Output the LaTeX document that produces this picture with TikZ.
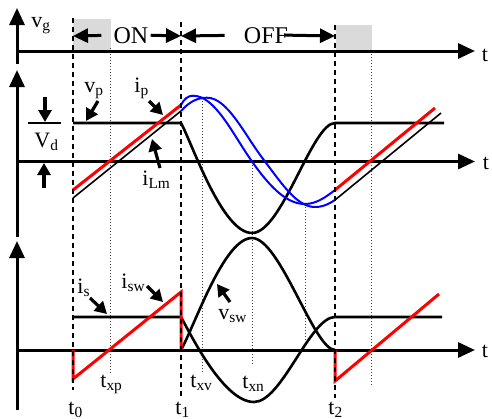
\documentclass[tikz,border=0pt]{standalone}
\usepackage{fontspec}
\setmainfont{Liberation Serif}
\usetikzlibrary{arrows.meta}
\definecolor{gatebox}{RGB}{218,218,218}
\definecolor{ired}{RGB}{255,0,0}
\definecolor{rblue}{RGB}{0,0,255}

\begin{document}
\begin{tikzpicture}[
    x=0.5pt, y=-0.5pt,
    axis/.style={line width=1.5pt, -{Triangle[length=8.5pt, width=7.5pt]}},
    span/.style={line width=1.5pt, -{Triangle[length=7.5pt, width=7pt]}},
    ptr/.style={line width=1.6pt, -{Triangle[length=6pt, width=6.5pt]}},
    wave/.style={line width=1.3pt},
    thinwave/.style={line width=0.8pt},
    redwave/.style={line width=1.5pt, ired},
    bluewave/.style={line width=1pt, rblue},
    tmark/.style={line width=0.6pt, dash pattern=on 2.5pt off 2pt},
    tcross/.style={line width=0.5pt, black!75, dash pattern=on 0.5pt off 1pt},
    lbl/.style={font=\fontsize{11}{13}\selectfont, inner sep=0pt, anchor=base west},
    big/.style={font=\fontsize{12}{14}\selectfont, inner sep=0pt, anchor=base}
]
\useasboundingbox (0,0) rectangle (492,418);

% Intervalos ON / OFF
\fill[gatebox] (73,19) rectangle (111,51);
\fill[gatebox] (336,25) rectangle (372,51);

% Instantes de cruce (punteados)
\draw[tcross] (110,48) -- (110,373);
\draw[tcross] (202,98) -- (202,372);
\draw[tcross] (252,162) -- (252,365);
\draw[tcross] (305,204) -- (305,345);
\draw[tcross] (371,51) -- (371,386);

% Ejes
\draw[axis] (17,64) -- (17,8);
\draw[axis] (17,51) -- (475,51);
\draw[axis] (17,237) -- (17,70);
\draw[axis] (17,161.5) -- (475,161.5);
\draw[axis] (17,410) -- (17,241);
\draw[axis] (17,350) -- (475,350);
\node[lbl, anchor=base] (tg) at (485,61) {t};
\node[lbl, anchor=base] (tp) at (486,169) {t};
\node[lbl, anchor=base] (ts) at (485,357) {t};

% Senal de puerta
\node[lbl] (vg) at (31,27) {v\textsubscript{g}};
\node[big] (on) at (131,43) {ON};
\node[big] (off) at (266,43) {OFF};
\coordinate (s0) at (73,36);
\coordinate (s1) at (181,36);
\coordinate (s2) at (335,36);
\draw[span, shorten <=6pt] (on.west) -- (s0);
\draw[span, shorten <=1pt] (on.east) -- (s1);
\draw[span, shorten <=9.5pt] (off.west) -- (s1);
\draw[span, shorten <=-2pt] (off.east) -- (s2);

% Primario: v_p, i_p, i_Lm
\draw[wave] (73,123) -- (181,123) .. controls (192,143) and (222,233) .. (252,233)
    .. controls (282,233) and (312,123) .. (335,123) -- (444,123);
\draw[thinwave] (73,198) -- (181,111);
\draw[thinwave] (335,200) -- (441,113);
\draw[redwave] (73,190) -- (181,105);
\draw[redwave] (335,190) -- (435,108);
\draw[bluewave] (181,105) .. controls (184,99) and (188,95.7) .. (193,95.7)
    .. controls (215,95.7) and (232,133) .. (252,161.5)
    .. controls (272,190) and (288,204) .. (305,204)
    .. controls (317,204) and (327,196) .. (335,190);
\draw[bluewave] (181,111) .. controls (190,101) and (198,97.7) .. (207,97.7)
    .. controls (228,97.7) and (245,136) .. (265,161.5)
    .. controls (284,187) and (298,207) .. (315,207)
    .. controls (324,207) and (330,203) .. (335,200);

% Cota V_d
\node[lbl] (vd) at (34,147) {V\textsubscript{d}};
\coordinate (vdL) at (28,123);
\coordinate (vdR) at (61,123);
\draw[line width=0.8pt] (vdL) -- (vdR);
\coordinate (vdA) at (45,97);
\coordinate (vdB) at (45,122);
\coordinate (vdC) at (44,188);
\coordinate (vdD) at (44,163);
\draw[ptr] (vdA) -- (vdB);
\draw[ptr] (vdC) -- (vdD);

\node[lbl] (vp) at (84,92) {v\textsubscript{p}};
\coordinate (vpA) at (98,101);
\coordinate (vpB) at (86,121);
\draw[ptr] (vpA) -- (vpB);
\node[lbl] (ip) at (134,92) {i\textsubscript{p}};
\coordinate (ipA) at (149,101);
\coordinate (ipB) at (163,115);
\draw[ptr] (ipA) -- (ipB);
\node[lbl] (ilm) at (142,185) {i\textsubscript{Lm}};
\coordinate (ilmA) at (160,168);
\coordinate (ilmB) at (152,139);
\draw[ptr] (ilmA) -- (ilmB);

% Secundario: i_s, i_sw, v_sw
\draw[wave] (73,317) -- (181,317) .. controls (192,337) and (224,402) .. (254,402)
    .. controls (282,402) and (310,317) .. (335,317) -- (442,317);
\draw[wave] (181,350) .. controls (195,325) and (224,238) .. (252,238)
    .. controls (280,238) and (314,350) .. (335,350);
\draw[redwave] (73,350) -- (73,379) -- (181,292) -- (181,350);
\draw[redwave] (335,350) -- (335,381) -- (439,294);

\node[lbl] (is) at (77,293) {i\textsubscript{s}};
\coordinate (isA) at (90,298);
\coordinate (isB) at (107,314);
\draw[ptr] (isA) -- (isB);
\node[lbl] (isw) at (121,288) {i\textsubscript{sw}};
\coordinate (iswA) at (147,286);
\coordinate (iswB) at (163,302);
\draw[ptr] (iswA) -- (iswB);
\node[lbl] (vsw) at (218,319) {v\textsubscript{sw}};
\coordinate (vswA) at (230,302);
\coordinate (vswB) at (217,284);
\draw[ptr] (vswA) -- (vswB);

% Instantes de conmutacion (discontinuos)
\draw[tmark] (73,18) -- (73,390);
\draw[tmark] (181,22) -- (181,398);
\draw[tmark] (335,25) -- (335,398);

\node[lbl] (t0) at (68,414) {t\textsubscript{0}};
\node[lbl] (txp) at (100,387) {t\textsubscript{xp}};
\node[lbl] (t1) at (175,414) {t\textsubscript{1}};
\node[lbl] (txv) at (190,387) {t\textsubscript{xv}};
\node[lbl] (txn) at (242,388) {t\textsubscript{xn}};
\node[lbl] (t2) at (328,414) {t\textsubscript{2}};

\end{tikzpicture}
\end{document}
